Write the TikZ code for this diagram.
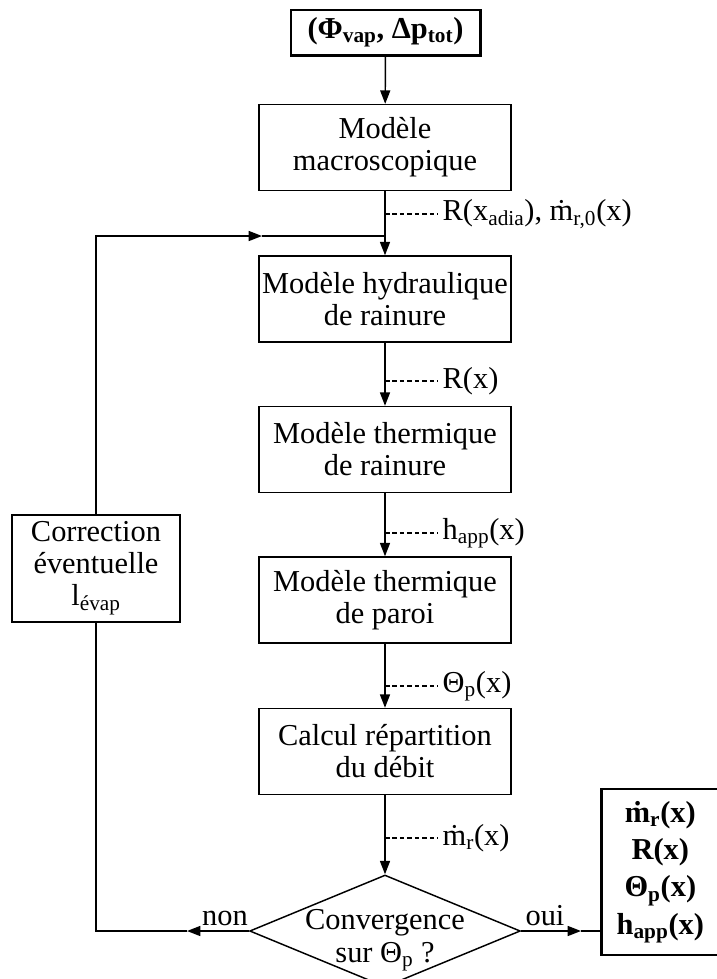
\documentclass[tikz,border=0pt]{standalone}
\usepackage{fontspec}
\setmainfont{Liberation Serif}
\usetikzlibrary{arrows.meta, shapes.geometric, positioning}

\newcommand{\subtxt}[1]{\textsubscript{#1}}

\begin{document}
\begin{tikzpicture}[
    x=0.75pt, y=-0.75pt,
    every node/.style={font=\fontsize{22.8}{24}\selectfont},
    model/.style={
        draw, line width=1.1pt, align=center,
        minimum width=189pt, minimum height=64.5pt, inner sep=2pt
    },
    source/.style={
        draw, line width=2pt, minimum width=142pt, minimum height=34pt,
        inner sep=2pt, font=\fontsize{22.8}{24}\selectfont\bfseries
    },
    result/.style={
        draw, line width=2pt, align=center, minimum width=88.5pt,
        minimum height=124.5pt, inner sep=2pt,
        font=\fontsize{22.8}{28}\selectfont\bfseries
    },
    decision/.style={
        diamond, draw, line width=1.1pt, inner sep=0pt,
        minimum width=203pt, minimum height=84pt
    },
    flow/.style={line width=1.1pt, -{Triangle[length=10pt, width=7.5pt]}},
    wire/.style={line width=1.1pt},
    data-line/.style={line width=0.8pt, dash pattern=on 3.4pt off 2.2pt}
]
    % Page: 717 x 979 px, y runs downwards.
    \useasboundingbox (0,0) rectangle (717,979);

    % Main chain of models.
    \node[source] (inputs) at (385.5,32.5) {(Φ\subtxt{vap}, Δp\subtxt{tot})};
    \node[model] (macro) at (385,147.5) {Modèle\\macroscopique};
    \node[model] (hydro) at (385,299) {Modèle hydraulique\\de rainure};
    \node[model] (grooveTh) at (385,449.5) {Modèle thermique\\de rainure};
    \node[model] (wallTh) at (385,600) {Modèle thermique\\de paroi};
    \node[model] (split) at (385,751.5) {Calcul répartition\\du débit};
    \node[decision] (conv) at (385,931) {};
    \node[align=center, inner sep=0pt, font=\fontsize{22.8}{25}\selectfont]
        (convText) at (385,940) {Convergence\\sur Θ\subtxt{p} ?};

    % Loop back and final results.
    \node[model, minimum width=126pt, minimum height=80pt] (corr) at (96,568.5)
        {Correction\\éventuelle\\l\subtxt{évap}};
    \node[result, anchor=west] (outputs) at (600,872)
        {ṁ\subtxt{r}(x)\\R(x)\\Θ\subtxt{p}(x)\\h\subtxt{app}(x)};

    \coordinate (merge) at (385,236);
    \coordinate (backTip) at (262,236);
    \coordinate (noTip) at (187,931);
    \coordinate (yesTip) at (581,931);

    % Data passed between models.
    \node[anchor=west] (q1) at (438,214) {R(x\subtxt{adia}), ṁ\subtxt{r,0}(x)};
    \node[anchor=west] (q2) at (438,381) {R(x)};
    \node[anchor=west] (q3) at (438,533) {h\subtxt{app}(x)};
    \node[anchor=west] (q4) at (438,686) {Θ\subtxt{p}(x)};
    \node[anchor=west] (q5) at (438,838) {ṁ\subtxt{r}(x)};

    \node[anchor=base] (noLbl) at (225,925) {non};
    \node[anchor=base] (yesLbl) at (545,925) {oui};

    % Connectors.
    \draw[flow] (inputs) -- (macro);
    \draw[flow] (macro) -- (hydro);
    \draw[flow] (hydro) -- (grooveTh);
    \draw[flow] (grooveTh) -- (wallTh);
    \draw[flow] (wallTh) -- (split);
    \draw[flow] (split) -- (conv);

    \draw[flow] (conv.west) -- (noTip);
    \draw[wire] (noTip) -| (corr.south);
    \draw[flow] (corr.north) |- (backTip);
    \draw[wire] (backTip) -- (merge);
    \draw[flow] (conv.east) -- (yesTip);
    \draw[wire] (yesTip) -- (yesTip -| outputs.west);

    \draw[data-line] (macro.south |- q1.west) -- (q1.west);
    \draw[data-line] (hydro.south |- q2.west) -- (q2.west);
    \draw[data-line] (grooveTh.south |- q3.west) -- (q3.west);
    \draw[data-line] (wallTh.south |- q4.west) -- (q4.west);
    \draw[data-line] (split.south |- q5.west) -- (q5.west);
\end{tikzpicture}
\end{document}
